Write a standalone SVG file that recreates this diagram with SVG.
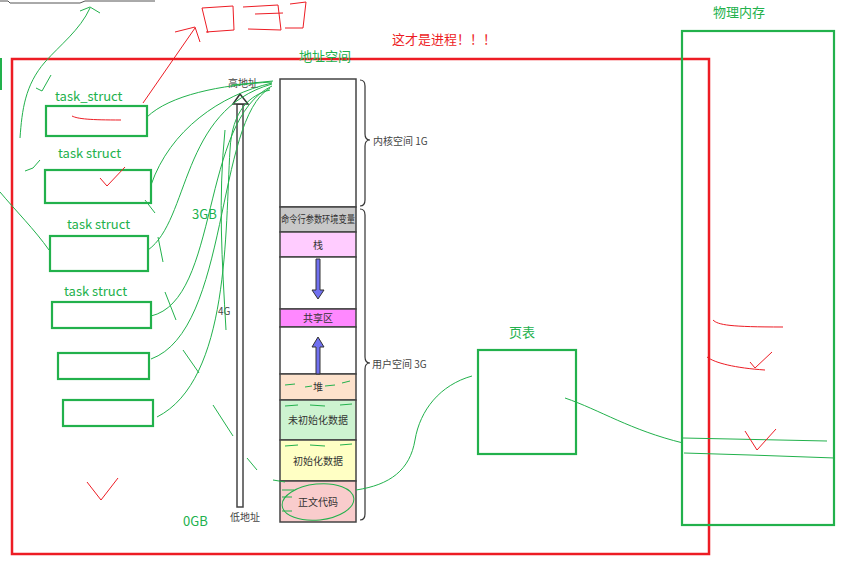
<svg xmlns="http://www.w3.org/2000/svg" width="841" height="561" viewBox="0 0 841 561">
<style>
.g{fill:none;stroke:#22b14c;stroke-width:2.2}
.gl{fill:none;stroke:#22b14c;stroke-width:1}
.rl{fill:none;stroke:#ed1c24;stroke-width:1}
.lbl{font-family:"Noto Sans CJK SC","Liberation Sans",sans-serif;font-size:13px;fill:#22b14c}
.seg{stroke:#444;stroke-width:1.5}
.st{font-family:"Noto Sans CJK SC",sans-serif;font-size:10px;fill:#333;text-anchor:middle}
.sm{font-family:"Noto Sans CJK SC","Liberation Sans",sans-serif;font-size:10px;fill:#444}
.blu{fill:#7070f0;stroke:#333;stroke-width:1}
</style>
<rect width="841" height="561" fill="#fff"/>
<path d="M0,1 L8,1 L10,3 L80,3 L85,1 L155,1" fill="none" stroke="#555" stroke-width="1"/>
<line x1="1" y1="58" x2="1" y2="90" stroke="#22b14c" stroke-width="2"/>

<g id="process">
<rect x="12" y="59" width="697" height="495" fill="none" stroke="#ed1c24" stroke-width="2.5"/>
<text x="392" y="44" font-family="Noto Sans CJK SC,sans-serif" font-size="13" fill="#ed1c24">这才是进程！！！</text>
</g>

<g id="physmem">
<rect x="682" y="31" width="152" height="494" class="g"/>
<text x="713" y="17" class="lbl">物理内存</text>
</g>

<g id="ts1"><rect x="46" y="106" width="101" height="30" class="g"/><text x="55" y="101" class="lbl">task_struct</text></g>
<g id="ts2"><rect x="45" y="170" width="106" height="33" class="g"/><text x="58" y="158" class="lbl">task struct</text></g>
<g id="ts3"><rect x="50" y="236" width="98" height="35" class="g"/><text x="67" y="229" class="lbl">task struct</text></g>
<g id="ts4"><rect x="52" y="302" width="99" height="26" class="g"/><text x="64" y="296" class="lbl">task struct</text></g>
<g id="ts5"><rect x="58" y="353" width="91" height="26" class="g"/></g>
<g id="ts6"><rect x="63" y="400" width="90" height="26" class="g"/></g>

<g id="pagetable">
<rect x="478" y="350" width="98" height="104" class="g"/>
<text x="509" y="337" class="lbl">页表</text>
</g>

<g id="axis">
<rect x="237" y="104" width="6" height="403" fill="#fff" stroke="#444" stroke-width="1.5"/>
<polygon points="240,94 233,104 248,104" fill="#fff" stroke="#333" stroke-width="1.5"/>
<text x="228" y="87" class="sm" font-size="9">高地址</text>
<text x="230" y="521" class="sm" font-size="9">低地址</text>
<text x="218" y="315" class="sm">4G</text>
<text x="192" y="219" class="lbl">3GB</text>
<text x="183" y="526" class="lbl">0GB</text>
</g>

<g id="addrspace">
<text x="299" y="61" class="lbl">地址空间</text>
<rect x="280" y="79" width="76" height="128" fill="#fff" class="seg"/>
<rect x="280" y="207" width="76" height="25" fill="#c8c8c8" class="seg"/>
<text x="318" y="223" class="st" font-size="8.5" textLength="74" lengthAdjust="spacingAndGlyphs">命令行参数环境变量</text>
<rect x="280" y="232" width="76" height="25" fill="#ffccff" class="seg"/>
<text x="318" y="249" class="st">栈</text>
<rect x="280" y="257" width="76" height="52" fill="#fff" class="seg"/>
<rect x="280" y="309" width="76" height="18" fill="#ff88ff" class="seg"/>
<text x="318" y="322" class="st">共享区</text>
<rect x="280" y="327" width="76" height="47" fill="#fff" class="seg"/>
<rect x="280" y="374" width="76" height="26" fill="#fde2cc" class="seg"/>
<text x="318" y="391" class="st">堆</text>
<rect x="280" y="400" width="76" height="40" fill="#cdf3d0" class="seg"/>
<text x="318" y="424" class="st">未初始化数据</text>
<rect x="280" y="440" width="76" height="41" fill="#ffffc4" class="seg"/>
<text x="318" y="465" class="st">初始化数据</text>
<rect x="280" y="481" width="76" height="41" fill="#f9cccc" class="seg"/>
<text x="318" y="506" class="st">正文代码</text>
<path class="blu" d="M316,259 L320,259 L320,290 L324,290 L318,299 L312,290 L316,290 Z"/>
<path class="blu" d="M316,374 L320,374 L320,347 L324,347 L318,337 L312,347 L316,347 Z"/>
<path d="M360,80 Q365,80 365,86 L365,134 Q365,140 370,140 Q365,140 365,146 L365,200 Q365,206 360,206" fill="none" stroke="#333" stroke-width="1.2"/>
<text x="373" y="145" class="sm">内核空间 1G</text>
<path d="M360,209 Q365,209 365,215 L365,357 Q365,363 370,363 Q365,363 365,369 L365,514 Q365,520 360,520" fill="none" stroke="#333" stroke-width="1.2"/>
<text x="372" y="368" class="sm">用户空间 3G</text>
</g>

<g id="connectors">
<path class="gl" d="M147,117 C170,95 220,85 272,82"/>
<path class="gl" d="M232,85 L273,81"/>
<path class="gl" d="M151,185 C170,130 220,95 272,83"/>
<path class="gl" d="M148,250 C190,220 180,110 272,84"/>
<path class="gl" d="M151,316 C220,300 200,120 272,86"/>
<path class="gl" d="M151,359 C230,330 215,120 270,88"/>
<path class="gl" d="M157,417 C230,380 225,230 230,150 C232,110 250,95 270,90"/>
<path class="gl" d="M225,130 C218,200 222,260 226,330"/>
<path class="gl" d="M145,200 L155,213"/>
<path class="gl" d="M158,237 L163,262"/>
<path class="gl" d="M165,292 L176,320"/>
<path class="gl" d="M183,350 L199,373"/>
<path class="gl" d="M213,405 L233,436"/>
<path class="gl" d="M247,458 L257,470"/>
<path class="gl" d="M273,480 L285,482"/>
<path class="gl" d="M20,138 C22,110 25,85 45,62 C60,45 80,30 90,8"/>
<path class="gl" d="M80,11 L90,7 L100,13"/>
<path class="gl" d="M36,88 L42,91 L51,75"/>
<path class="gl" d="M25,171 L33,168 L40,160"/>
<path class="gl" d="M0,192 C15,210 35,230 49,250"/>
<path class="gl" d="M472,376 C440,385 420,410 415,440 C410,470 390,485 356,490"/>
<ellipse cx="318" cy="502" rx="36" ry="18" class="gl" transform="rotate(-6 318 502)"/>
<path class="gl" d="M285,385 L295,384 M305,387 L312,386 M325,386 L335,385 M342,383 L350,381"/>
<path class="gl" d="M285,406 L298,405 M310,405 L325,406 M340,405 L352,404"/>
<path class="gl" d="M285,446 L298,445 M310,445 L325,446 M340,445 L352,444"/>
<path class="gl" d="M282,490 L294,490 M282,497 L292,497 M282,511 L292,511"/>
<path class="gl" d="M565,398 C600,410 630,430 683,443"/>
<path class="gl" d="M683,438 L827,441"/>
<path class="gl" d="M684,453 L750,455 L835,458"/>
<path class="rl" d="M143,103 L195,28"/>
<path class="rl" d="M175,32 L195,27 L200,42"/>
<path class="rl" d="M208,33 L202,8 L233,6 L234,30 L206,32 M243,7 L278,5 L281,30 L248,29 M255,14 L283,13 M290,4 L306,2 L303,28 L285,28"/>
<path class="rl" d="M72,116 C78,119 90,120 121,120"/>
<path class="rl" d="M100,178 L107,186 L125,167"/>
<path class="rl" d="M87,482 L101,500 L118,478"/>
<path class="rl" d="M713,320 C718,325 730,327 783,327"/>
<path class="rl" d="M707,357 C715,363 735,368 765,370"/>
<path class="rl" d="M750,362 L755,368 L772,352"/>
<path class="rl" d="M745,431 L757,450 L776,429"/>
</g>
</svg>
